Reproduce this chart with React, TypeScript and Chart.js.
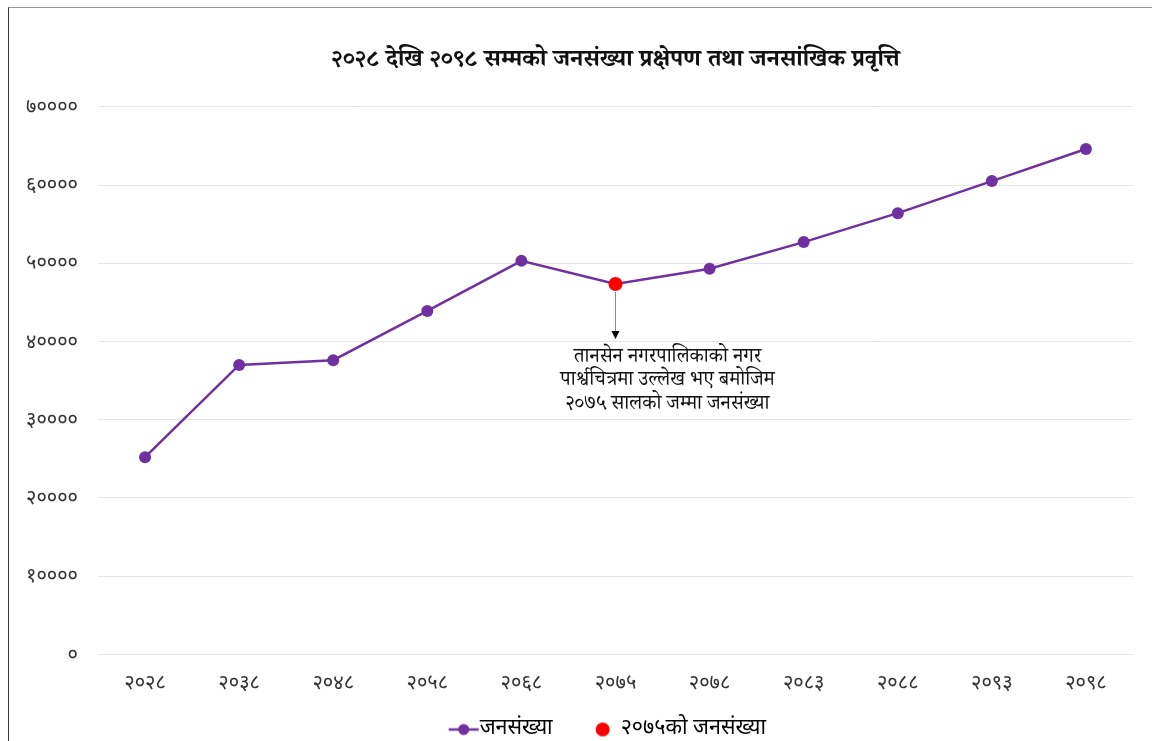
import React, { useEffect, useRef } from "react";
import { Chart, registerables } from "chart.js";

Chart.register(...registerables);

const categories = ["२०२८", "२०३८", "२०४८", "२०५८", "२०६८", "२०७५", "२०७८", "२०८३", "२०८८", "२०९३", "२०९८"];
const population = [25200, 37000, 37600, 43900, 50300, 47350, 49300, 52700, 56400, 60500, 64600];
const highlight2075 = [null, null, null, null, null, 47350, null, null, null, null, null];
const seriesNames = ["जनसंख्या", "२०७५को जनसंख्या"];
const titleText = "२०२८ देखि २०९८ सम्मको जनसंख्या प्रक्षेपण तथा जनसांखिक प्रवृत्ति";
const noteLines = ["तानसेन नगरपालिकाको नगर", "पार्श्वचित्रमा उल्लेख भए बमोजिम", "२०७५ सालको जम्मा जनसंख्या"];
const devDigits = ["०", "१", "२", "३", "४", "५", "६", "७", "८", "९"];

const PURPLE = "#7030A0";
const RED = "#FF0000";
const SANS = "'Noto Sans Devanagari', 'Noto Sans', sans-serif";
const SERIF = "'Noto Serif Devanagari', 'Noto Sans Devanagari', serif";
const BOX = 20;
const LEG_FS = 21.5;
const LEG_PAD = 37.25;

const toDev = (n: number) => String(n).replace(/[0-9]/g, (d) => devDigits[Number(d)]);

function makeLineDot(): HTMLCanvasElement {
  const r = BOX / 2 + LEG_FS / 2 - 1;
  const half = Math.max(r, 30 - r) + 1;
  const c = document.createElement("canvas");
  c.width = Math.ceil(half * 2);
  c.height = 14;
  const cx = c.width / 2;
  const ctx = c.getContext("2d")!;
  const x0 = cx + r - 30;
  ctx.strokeStyle = PURPLE;
  ctx.lineWidth = 2.5;
  ctx.beginPath();
  ctx.moveTo(x0, 7);
  ctx.lineTo(x0 + 30, 7);
  ctx.stroke();
  ctx.fillStyle = PURPLE;
  ctx.beginPath();
  ctx.arc(x0 + 15, 7, 5.5, 0, Math.PI * 2);
  ctx.fill();
  return c;
}

function makeDot(): HTMLCanvasElement {
  const d = BOX / 2 + LEG_FS / 2 - 18;
  const c = document.createElement("canvas");
  c.width = Math.ceil(2 * (Math.abs(d) + 8) + 2);
  c.height = 16;
  const ctx = c.getContext("2d")!;
  ctx.fillStyle = RED;
  ctx.beginPath();
  ctx.arc(c.width / 2 + d, 8, 7, 0, Math.PI * 2);
  ctx.fill();
  return c;
}

const legendPlace = {
  id: "legendPlace",
  beforeDraw(chart: any) {
    const lg = chart.legend;
    const xs = chart.scales.x;
    if (!lg || !xs) return;
    const h = lg.bottom - lg.top;
    lg.top = xs.bottom - 13.75;
    lg.bottom = lg.top + h;
    lg.left -= 8;
    lg.right -= 8;
  },
};

const notePlugin = {
  id: "note2075",
  afterDatasetsDraw(chart: any) {
    const meta = chart.getDatasetMeta(1);
    const pt = meta.data[5];
    if (!pt) return;
    const { x, y } = pt;
    const ctx = chart.ctx;
    ctx.save();
    ctx.strokeStyle = "#8a8a8a";
    ctx.lineWidth = 1;
    ctx.beginPath();
    ctx.moveTo(x, y + 8);
    ctx.lineTo(x, y + 47);
    ctx.stroke();
    ctx.fillStyle = "#000";
    ctx.beginPath();
    ctx.moveTo(x - 4, y + 47);
    ctx.lineTo(x + 4, y + 47);
    ctx.lineTo(x, y + 55);
    ctx.closePath();
    ctx.fill();
    ctx.font = `20px ${SERIF}`;
    ctx.fillStyle = "#111";
    ctx.textAlign = "center";
    ctx.textBaseline = "middle";
    noteLines.forEach((line, i) => {
      ctx.fillText(line, x + 52, y + 76 + i * 23.5);
    });
    ctx.restore();
  },
};

export default function App() {
  const ref = useRef<HTMLCanvasElement | null>(null);
  useEffect(() => {
    if (!ref.current) return;
    const lineDot = makeLineDot();
    const dot = makeDot();
    const chart = new Chart(ref.current, {
      type: "line",
      data: {
        labels: categories,
        datasets: [
          {
            label: seriesNames[0],
            data: population,
            borderColor: PURPLE,
            backgroundColor: PURPLE,
            borderWidth: 2.5,
            pointRadius: 6,
            pointHoverRadius: 6,
            pointBackgroundColor: PURPLE,
            pointBorderWidth: 0,
            tension: 0,
            order: 2,
          },
          {
            label: seriesNames[1],
            data: highlight2075 as any,
            borderColor: RED,
            backgroundColor: RED,
            showLine: false,
            pointRadius: 7,
            pointHoverRadius: 7,
            pointBackgroundColor: RED,
            pointBorderWidth: 0,
            order: 1,
          },
        ],
      },
      options: {
        responsive: false,
        animation: false,
        layout: { padding: { left: 16, right: 19, top: 0, bottom: 0 } },
        plugins: {
          tooltip: { enabled: false },
          title: {
            display: true,
            text: titleText,
            fullSize: false,
            color: "#111",
            font: { family: SERIF, size: 24, weight: "bold" },
            padding: { top: 41, bottom: 29 },
          },
          legend: {
            position: "bottom",
            fullSize: false,
            labels: {
              usePointStyle: true,
              pointStyleWidth: BOX,
              padding: LEG_PAD,
              color: "#222",
              font: { family: SANS, size: LEG_FS },
              generateLabels: () => [
                { text: seriesNames[0], pointStyle: lineDot as any, fillStyle: PURPLE, strokeStyle: PURPLE, lineWidth: 0, hidden: false, datasetIndex: 0 },
                { text: seriesNames[1], pointStyle: dot as any, fillStyle: RED, strokeStyle: RED, lineWidth: 0, hidden: false, datasetIndex: 1 },
              ],
            },
          },
        },
        scales: {
          x: {
            offset: true,
            grid: { display: false, drawTicks: false },
            border: { display: false },
            ticks: { color: "#333", font: { family: SANS, size: 20 }, padding: 19, maxRotation: 0 },
            afterFit: (s: any) => {
              s.height = 41;
            },
          },
          y: {
            min: 0,
            max: 70000,
            grid: { color: "#e6e6e6", drawTicks: false, lineWidth: 1 },
            border: { display: false },
            ticks: {
              stepSize: 10000,
              color: "#333",
              font: { family: SANS, size: 20 },
              padding: 20,
              labelOffset: 2.5,
              callback: (v: any) => toDev(Number(v)),
            },
            afterFit: (s: any) => {
              s.width = 73;
            },
          },
        },
      },
      plugins: [legendPlace, notePlugin],
    });
    return () => chart.destroy();
  }, []);
  return (
    <div
      style={{
        position: "fixed",
        left: 8,
        top: 7,
        right: 0,
        bottom: 0,
        overflow: "hidden",
        borderLeft: "1px solid #333",
        borderTop: "1px solid #999",
        background: "#fff",
      }}
    >
      <canvas ref={ref} width={1143} height={756} style={{ display: "block" }} />
    </div>
  );
}
